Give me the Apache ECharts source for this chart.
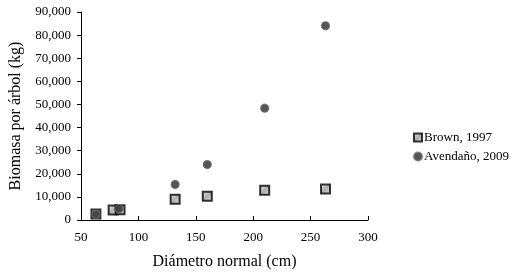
<!DOCTYPE html>
<html>
<head>
<meta charset="utf-8">
<script src="https://cdn.jsdelivr.net/npm/echarts/dist/echarts.min.js"></script>
<style>
  html, body { margin: 0; padding: 0; background: #fff; }
  #chart { width: 514px; height: 275px; }
</style>
</head>
<body>
<div id="chart"></div>
<script>
  // diametro normal (cm) vs biomasa (kg)
  var brownX = [63, 78, 84, 132, 160, 210, 263];
  var brownY = [2600, 4300, 4400, 9000, 10300, 12900, 13400];
  var avendanoX = [63, 83, 132, 160, 210, 263];
  var avendanoY = [2500, 4900, 15400, 24000, 48400, 84000];

  var brownData = brownX.map(function (x, i) { return [x, brownY[i]]; });
  var avendanoData = avendanoX.map(function (x, i) { return [x, avendanoY[i]]; });

  var chart = echarts.init(document.getElementById('chart'));
  var font = '"Liberation Serif", "Times New Roman", serif';

  chart.setOption({
    animation: false,
    textStyle: { fontFamily: font, color: '#000' },
    grid: { left: 76, right: 146, top: 12, bottom: 53 },
    legend: {
      orient: 'vertical',
      left: 408,
      top: 126,
      itemWidth: 8,
      itemHeight: 8,
      itemGap: 6,
      textStyle: { fontFamily: font, fontSize: 13, color: '#000', padding: [0, 0, 0, -3] },
      data: [
        { name: 'Brown, 1997', icon: 'rect' },
        { name: 'Avendaño, 2009', icon: 'circle' }
      ]
    },
    xAxis: {
      type: 'value',
      min: 50,
      max: 300,
      interval: 50,
      name: 'Diámetro normal (cm)',
      nameLocation: 'middle',
      nameGap: 34,
      nameTextStyle: { fontFamily: font, fontSize: 16, color: '#000' },
      axisLine: { lineStyle: { color: '#000', width: 1 } },
      axisTick: { inside: true, length: 4, lineStyle: { color: '#000' } },
      axisLabel: { fontFamily: font, fontSize: 13, color: '#000', margin: 11 },
      splitLine: { show: false }
    },
    yAxis: {
      type: 'value',
      min: 0,
      max: 90000,
      interval: 10000,
      name: 'Biomasa por árbol (kg)',
      nameLocation: 'middle',
      nameGap: 57,
      nameTextStyle: { fontFamily: font, fontSize: 16, color: '#000' },
      axisLine: { show: true, lineStyle: { color: '#000', width: 1 } },
      axisTick: { show: true, length: 4, lineStyle: { color: '#000' } },
      axisLabel: {
        fontFamily: font, fontSize: 13, color: '#000', margin: 10,
        formatter: function (v) { return v.toLocaleString('en-US'); }
      },
      splitLine: { show: false }
    },
    series: [
      {
        name: 'Brown, 1997',
        type: 'scatter',
        symbol: 'rect',
        symbolSize: 9,
        data: brownData,
        itemStyle: {
          color: new echarts.graphic.LinearGradient(0, 0, 1, 1, [
            { offset: 0, color: '#f0f0f0' },
            { offset: 0.5, color: '#9a9a9a' },
            { offset: 1, color: '#e4e4e4' }
          ]),
          borderColor: '#000',
          borderWidth: 2
        }
      },
      {
        name: 'Avendaño, 2009',
        type: 'scatter',
        symbol: 'circle',
        symbolSize: 8,
        data: avendanoData,
        itemStyle: { color: '#2a2a2a', borderColor: '#6a6a6a', borderWidth: 1.2 }
      }
    ]
  });
</script>
</body>
</html>
